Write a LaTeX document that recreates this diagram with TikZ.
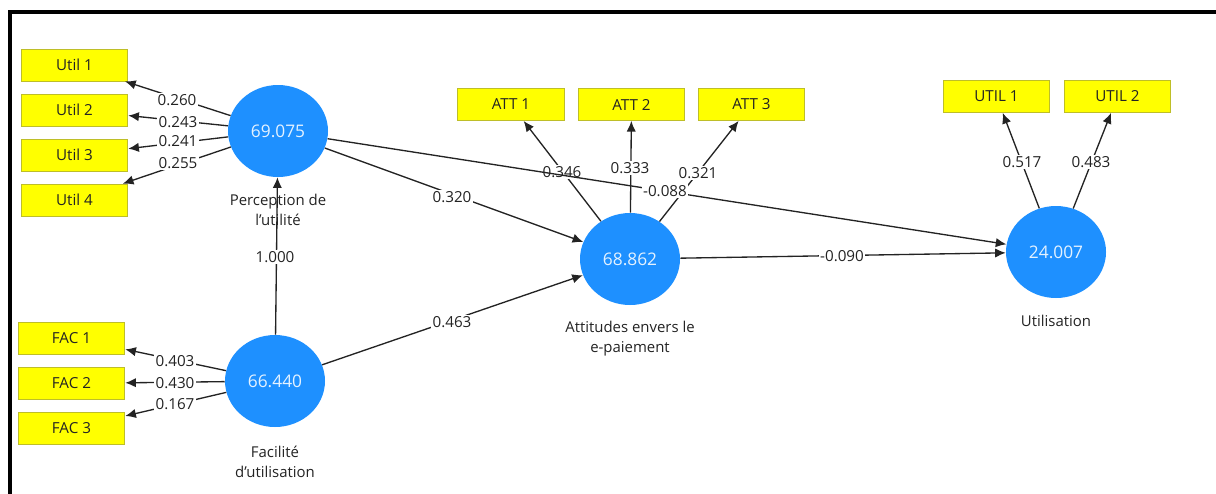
\documentclass[tikz,border=0pt]{standalone}
\usepackage{fontspec}
\setmainfont{Open Sans}
\usetikzlibrary{shapes.geometric,arrows.meta}
\definecolor{lvblue}{RGB}{30,144,255}
\definecolor{indyel}{RGB}{255,255,0}
\definecolor{indbord}{RGB}{190,190,40}
\definecolor{txt}{RGB}{35,35,35}
\begin{document}
\begin{tikzpicture}[x=0.75pt,y=-0.75pt,
 ind/.style={draw=indbord, line width=0.6pt, fill=indyel, minimum width=80pt, minimum height=24pt, inner sep=0pt, text=txt, font=\fontsize{11.4}{13}\selectfont},
 lv/.style={ellipse, fill=lvblue, minimum width=75pt, minimum height=69pt, inner sep=0pt, text=white!88!lvblue, font=\fontsize{13}{15}\selectfont},
 lvcap/.style={align=center, text=txt, font=\fontsize{11.2}{15}\selectfont},
 lbl/.style={fill=white, inner sep=1.2pt, text=txt, font=\fontsize{11.4}{13}\selectfont},
 arr/.style={draw=txt, line width=1pt, -{Latex[length=8pt,width=7pt]}}
]
\useasboundingbox (0,0) rectangle (1216,493);
\draw[line width=2.8pt] (10,495) -- (10,12) -- (1216,12);

% captions
\node[lvcap] (cP) at (278,210) {Perception de\\l’utilité};
\node[lvcap] (cF) at (275,462) {Facilité\\d’utilisation};
\node[lvcap] (cA) at (630,338.5) {Attitudes envers le\\e-paiement};
\node[lvcap] (cU) at (1056,321) {Utilisation};

% indicators
\node[ind] (u1) at (74.5,65) {Util 1};
\node[ind] (u2) at (74.5,110) {Util 2};
\node[ind] (u3) at (74.5,155) {Util 3};
\node[ind] (u4) at (74.5,200) {Util 4};
\node[ind] (f1) at (71.5,338) {FAC 1};
\node[ind] (f2) at (71.5,383.5) {FAC 2};
\node[ind] (f3) at (71.5,428.5) {FAC 3};
\node[ind] (a1) at (511,104.5) {ATT 1};
\node[ind] (a2) at (631.5,104.5) {ATT 2};
\node[ind] (a3) at (751.5,104.5) {ATT 3};
\node[ind] (t1) at (996.5,96.5) {UTIL 1};
\node[ind] (t2) at (1117.5,96.5) {UTIL 2};

% latent variables
\node[lv] (P) at (278,131) {69.075};
\node[lv] (F) at (275,381) {66.440};
\node[lv] (A) at (630,259) {68.862};
\node[lv] (U) at (1056,252) {24.007};

% edges
\draw[arr] (P) -- (u1);
\draw[arr] (P) -- (u2);
\draw[arr] (P) -- (u3);
\draw[arr] (P) -- (u4);
\draw[arr] (F) -- (f1);
\draw[arr] (F) -- (f2);
\draw[arr] (F) -- (f3);
\draw[arr] (A) -- (a1);
\draw[arr] (A) -- (a2);
\draw[arr] (A) -- (a3);
\draw[arr] (U) -- (t1);
\draw[arr] (U) -- (t2);
\draw[arr] (F) -- (P);
\draw[arr] (P) -- (A);
\draw[arr] (F) -- (A);
\draw[arr] (A) -- (U);

% labels
\node[lbl] (l1) at (177,100) {0.260};
\node[lbl] (l2) at (178,122) {0.243};
\node[lbl] (l3) at (178,141) {0.241};
\node[lbl] (l4) at (178,163) {0.255};
\node[lbl] (l5) at (175,361) {0.403};
\node[lbl] (l6) at (175,383) {0.430};
\node[lbl] (l7) at (175,404) {0.167};
\node[lbl] (l8) at (275,257) {1.000};
\node[lbl] (l9) at (562,172) {0.346};
\node[lbl] (l10) at (630,168) {0.333};
\node[lbl] (l11) at (698,173) {0.321};
\node[lbl] (l12) at (452,197) {0.320};
\node[lbl] (l13) at (452,322) {0.463};
\node[lbl] (l14) at (1022,162) {0.517};
\node[lbl] (l15) at (1091,162) {0.483};
\node[lbl] (l16) at (842,256) {-0.090};

\draw[arr] (P) -- (U);
\node[lbl] (l17) at (665,191) {-0.088};
\end{tikzpicture}
\end{document}
